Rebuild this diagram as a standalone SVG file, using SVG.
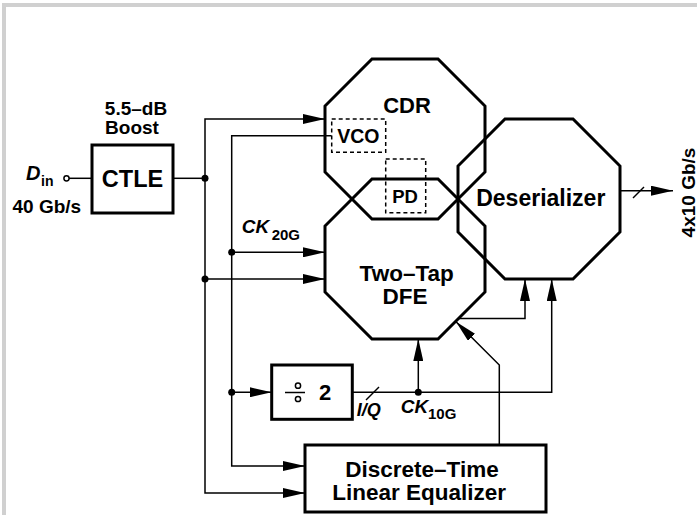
<svg xmlns="http://www.w3.org/2000/svg" width="697" height="515" viewBox="0 0 697 515">
<style>
text{font-family:"Liberation Sans",Arial,sans-serif;font-weight:bold;fill:#000}
.oct{fill:none;stroke:#000;stroke-width:3;stroke-linejoin:miter}
.box{fill:#fff;stroke:#000;stroke-width:3}
.dash{fill:none;stroke:#000;stroke-width:1.5;stroke-dasharray:4,3}
.ln{fill:none;stroke:#000;stroke-width:1.5}
.arr{fill:none;stroke:#000;stroke-width:1.5;marker-end:url(#ah)}
.dot{fill:#000}
.it{font-style:italic}
</style>
<defs>
<marker id="ah" markerUnits="userSpaceOnUse" markerWidth="22" markerHeight="10" refX="22" refY="5" orient="auto">
<path d="M0,0 L22,5 L0,10 z" fill="#000"/>
</marker>
</defs>
<rect x="0" y="0" width="697" height="515" fill="#fff"/>
<path d="M4,515 V5 H697" fill="none" stroke="#d0d0d0" stroke-width="4"/>

<g id="connectors">
<circle cx="66.5" cy="178.3" r="2.6" fill="#fff" stroke="#000" stroke-width="1.5"/>
<path class="ln" d="M69,178.3 H92"/>
<path class="ln" d="M173,178.3 H205"/>
<path class="arr" d="M205,178.3 V119 H325"/>
<path class="arr" d="M205,178.3 V493 H305"/>
<path class="arr" d="M205,279 H325"/>
<path class="arr" d="M331.5,135.7 H231.7 V466 H305"/>
<path class="arr" d="M231.7,252.3 H325"/>
<path class="arr" d="M231.7,392.3 H271.7"/>
<path class="arr" d="M352.3,392.3 H551.7 V279"/>
<path class="arr" d="M418.3,392.3 V339"/>
<path class="arr" d="M458,318.5 H525 V279"/>
<path class="arr" d="M499.3,445 V365 L456,321.7"/>
<path class="arr" d="M620,190.7 H673"/>
<path class="ln" d="M633,198 L644,187"/>
<path class="ln" d="M366,400 L379,387"/>
<circle class="dot" cx="205" cy="178.3" r="3.5"/>
<circle class="dot" cx="205" cy="279" r="3.5"/>
<circle class="dot" cx="231.7" cy="252.3" r="3.5"/>
<circle class="dot" cx="231.7" cy="392.3" r="3.5"/>
<circle class="dot" cx="418.3" cy="392.3" r="3.5"/>
</g>

<g id="input">
<text x="26" y="180" font-size="20" class="it">D</text>
<text x="41" y="185.5" font-size="14">in</text>
<text x="12.5" y="213" font-size="19">40 Gb/s</text>
</g>

<g id="ctle">
<rect class="box" x="92" y="145" width="81" height="68"/>
<text x="132.5" y="186.7" font-size="23.5" text-anchor="middle">CTLE</text>
<text x="136" y="115" font-size="19" text-anchor="middle">5.5–dB</text>
<text x="132" y="134" font-size="19" text-anchor="middle">Boost</text>
</g>

<g id="cdr">
<polygon class="oct" points="372,59 438,59 485,106 485,172 438,219 372,219 325,172 325,106"/>
<text x="407" y="113.3" font-size="22" text-anchor="middle">CDR</text>
</g>

<g id="vco">
<rect class="dash" x="331.7" y="119" width="54" height="33.3"/>
<text x="358.3" y="142.7" font-size="19.5" text-anchor="middle">VCO</text>
</g>

<g id="dfe">
<polygon class="oct" points="372,179 438,179 485,226 485,292 438,339 372,339 325,292 325,226"/>
<text x="406.7" y="281" font-size="22.5" text-anchor="middle">Two–Tap</text>
<text x="405" y="304" font-size="22.5" text-anchor="middle">DFE</text>
</g>

<g id="pd">
<rect class="dash" x="385.7" y="159" width="40" height="53.7"/>
<text x="405" y="202.7" font-size="18.5" text-anchor="middle">PD</text>
</g>

<g id="deserializer">
<polygon class="oct" points="505,119 573,119 620,166 620,232 573,279 505,279 458,232 458,166"/>
<text x="540.8" y="206" font-size="23" text-anchor="middle">Deserializer</text>
</g>

<g id="output">
<text transform="translate(694.5,192.5) rotate(-90)" font-size="19" text-anchor="middle">4x10 Gb/s</text>
</g>

<g id="ck20g">
<text x="241.7" y="233.3" font-size="19" class="it">CK</text>
<text x="271.7" y="240" font-size="15">20G</text>
</g>

<g id="div2">
<rect class="box" x="271.7" y="365" width="80.6" height="54.3"/>
<path class="ln" d="M285,392.5 H305"/>
<circle cx="298" cy="385.7" r="2.6" fill="none" stroke="#000" stroke-width="1.5"/>
<circle cx="298" cy="399" r="2.6" fill="none" stroke="#000" stroke-width="1.5"/>
<text x="319" y="400" font-size="22">2</text>
</g>

<g id="iq">
<text x="356.7" y="416" font-size="18" class="it">I/Q</text>
</g>

<g id="ck10g">
<text x="400.7" y="413.3" font-size="19" class="it">CK</text>
<text x="428" y="419" font-size="15">10G</text>
</g>

<g id="dtle">
<rect class="box" x="305" y="445" width="241" height="67"/>
<text x="422" y="476.7" font-size="22.5" text-anchor="middle">Discrete–Time</text>
<text x="419.2" y="500" font-size="22.5" text-anchor="middle">Linear Equalizer</text>
</g>
</svg>
